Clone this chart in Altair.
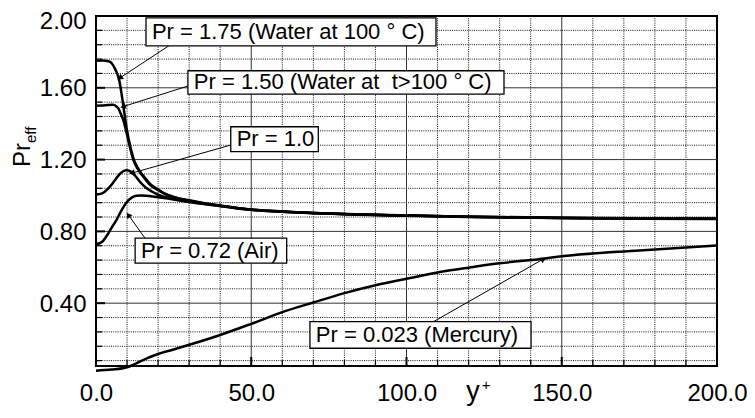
import math
import altair as alt
import pandas as pd

# ---------------- data ----------------
pr175_x = [0, 2, 4, 5, 6, 7, 7.5, 8.2, 8.8, 9.9, 11, 12, 13.5, 15.3, 17.5, 20, 22, 25, 30, 35, 40, 50, 60, 70, 85, 100, 120, 150, 175, 200]
pr175_y = [1.75, 1.752, 1.748, 1.738, 1.71, 1.67, 1.64, 1.57, 1.50, 1.37, 1.275, 1.21, 1.152, 1.108, 1.063, 1.033, 1.012, 0.992, 0.973, 0.957, 0.944, 0.922, 0.911, 0.903, 0.895, 0.889, 0.882, 0.876, 0.873, 0.871]

pr150_x = [0, 2, 4, 5.5, 6.5, 7.2, 8.0, 8.8, 9.9, 11, 12, 13.5, 15.3, 17.5, 20, 22, 25, 30, 35, 40, 50, 60, 70, 85, 100, 120, 150, 175, 200]
pr150_y = [1.50, 1.501, 1.504, 1.505, 1.497, 1.485, 1.455, 1.42, 1.345, 1.265, 1.20, 1.147, 1.103, 1.058, 1.03, 1.01, 0.99, 0.971, 0.956, 0.943, 0.921, 0.91, 0.902, 0.894, 0.888, 0.881, 0.875, 0.872, 0.870]

pr100_x = [0, 2, 3.4, 5, 6.5, 8, 9.7, 11, 12.5, 14.2, 16, 18, 20, 22, 25, 30, 35, 40, 50, 60, 70, 85, 100, 120, 150, 175, 200]
pr100_y = [1.005, 1.012, 1.03, 1.06, 1.095, 1.125, 1.14, 1.135, 1.112, 1.075, 1.045, 1.022, 1.004, 0.993, 0.98, 0.966, 0.953, 0.942, 0.921, 0.91, 0.902, 0.894, 0.888, 0.881, 0.875, 0.872, 0.870]

pr072_x = [0, 2, 3.4, 5, 6.7, 8.3, 9.9, 11.5, 13, 14.5, 16, 20, 25, 30, 35, 40, 50, 60, 70, 85, 100, 120, 150, 175, 200]
pr072_y = [0.728, 0.742, 0.774, 0.82, 0.867, 0.92, 0.962, 0.988, 0.998, 1.0, 0.999, 0.99, 0.978, 0.964, 0.952, 0.941, 0.92, 0.909, 0.901, 0.893, 0.887, 0.880, 0.874, 0.871, 0.869]

pr0023_x = [0, 5, 10, 13, 16, 20, 25, 30, 40, 50, 60, 70, 80, 90, 100, 110, 120, 130, 144, 150, 175, 200]
pr0023_y = [0.024, 0.03, 0.043, 0.065, 0.09, 0.117, 0.142, 0.168, 0.223, 0.285, 0.35, 0.404, 0.456, 0.50, 0.536, 0.571, 0.598, 0.622, 0.648, 0.661, 0.694, 0.722]

series_names = ["Pr=1.75", "Pr=1.50", "Pr=1.0", "Pr=0.72", "Pr=0.023"]

# annotation labels (data units)
label_text = ["Pr = 1.75 (Water at 100 \u00b0 C)", "Pr = 1.50 (Water at \u00a0t>100 \u00b0 C)",
              "Pr = 1.0", "Pr = 0.72 (Air)", "Pr = 0.023 (Mercury)"]
box_x1 = [16.1, 29.6, 43.4, 12.6, 68.9]
box_x2 = [109.5, 131.4, 71.6, 61.4, 140.1]
box_y1 = [1.989, 1.695, 1.383, 0.762, 0.297]
box_y2 = [1.833, 1.565, 1.244, 0.623, 0.149]
text_x = [18.0, 31.5, 45.3, 14.5, 70.8]
text_y = [1.911, 1.630, 1.313, 0.692, 0.223]
arrow_x1 = [23.8, 29.6, 43.4, 15.8, 108.1]
arrow_y1 = [1.838, 1.610, 1.281, 0.762, 0.291]
arrow_x2 = [7.7, 8.7, 11.6, 10.4, 144.1]
arrow_y2 = [1.655, 1.495, 1.125, 0.892, 0.646]

x_major = [0, 50, 100, 150, 200]
y_major = [0.4, 0.8, 1.2, 1.6, 2.0]
x_minor = [v for v in range(10, 200, 10) if v % 50 != 0]
y_minor = [round(0.08 * k, 2) for k in range(1, 25) if k % 5 != 0]

# ---------------- layout ----------------
W, H = 621, 350
X0, X1 = 0, 200
Y0, Y1 = 0.05, 2.0
FONT = "Liberation Sans"

xs = alt.Scale(domain=[X0, X1], nice=False, zero=False)
ys = alt.Scale(domain=[Y0, Y1], nice=False, zero=False)
x_axis = alt.Axis(values=x_major, format=".1f", title=None, labelPadding=15, labelFlush=False,
                  labelFontSize=24)
y_axis = alt.Axis(values=y_major, format=".2f", title=None, labelPadding=10, labelFlush=False,
                  labelFontSize=24,
                  labelOffset={"condition": {"test": "datum.value >= 1.99", "value": 5}, "value": 1})


def X(field="x"):
    return alt.X(f"{field}:Q", scale=xs, axis=x_axis)


def Y(field="y"):
    return alt.Y(f"{field}:Q", scale=ys, axis=y_axis)


# ---------------- tables ----------------
curves = pd.concat([
    pd.DataFrame({"x": xx, "y": yy, "s": name, "o": range(len(xx))})
    for name, xx, yy in zip(series_names,
                            [pr175_x, pr150_x, pr100_x, pr072_x, pr0023_x],
                            [pr175_y, pr150_y, pr100_y, pr072_y, pr0023_y])
])

labels = pd.DataFrame({"t": label_text, "x1": box_x1, "x2": box_x2, "y1": box_y1, "y2": box_y2,
                       "x": text_x, "y": text_y})

sx = W / (X1 - X0)
sy = H / (Y1 - Y0)
angles = []
for a, b, c, d in zip(arrow_x1, arrow_y1, arrow_x2, arrow_y2):
    dx = (c - a) * sx
    dy = -(d - b) * sy
    angles.append(math.degrees(math.atan2(dx, -dy)) % 360)
arrows = pd.DataFrame({"x": arrow_x1, "y": arrow_y1, "x2": arrow_x2, "y2": arrow_y2, "ang": angles})

# ---------------- layers ----------------
minor_v = alt.Chart(pd.DataFrame({"x": x_minor})).mark_rule(
    color="#111", strokeWidth=1, strokeDash=[1, 1.2]).encode(x=X())
minor_h = alt.Chart(pd.DataFrame({"y": y_minor})).mark_rule(
    color="#111", strokeWidth=1, strokeDash=[1, 1.2]).encode(y=Y())
major_v = alt.Chart(pd.DataFrame({"x": x_major[1:-1]})).mark_rule(
    color="#333", strokeWidth=1).encode(x=X())
major_h = alt.Chart(pd.DataFrame({"y": y_major[:-1]})).mark_rule(
    color="#333", strokeWidth=1).encode(y=Y())

tick_xM = alt.Chart(pd.DataFrame({"x": x_major})).mark_rule(color="black", strokeWidth=2).encode(
    x=X(), y=alt.value(H), y2=alt.value(H - 9))
tick_xm = alt.Chart(pd.DataFrame({"x": x_minor})).mark_rule(color="black", strokeWidth=1.2).encode(
    x=X(), y=alt.value(H), y2=alt.value(H - 6))
tick_yM = alt.Chart(pd.DataFrame({"y": y_major})).mark_rule(color="black", strokeWidth=2).encode(
    y=Y(), x=alt.value(0), x2=alt.value(9))
tick_ym = alt.Chart(pd.DataFrame({"y": y_minor})).mark_rule(color="black", strokeWidth=1.2).encode(
    y=Y(), x=alt.value(0), x2=alt.value(6))

lines = alt.Chart(curves).mark_line(color="black", strokeWidth=2.5, interpolate="monotone").encode(
    x=X(), y=Y(), detail="s:N", order="o:Q")

arrow_lines = alt.Chart(arrows).mark_rule(color="black", strokeWidth=1).encode(
    x=X(), y=Y(), x2="x2:Q", y2="y2:Q")
arrow_heads = alt.Chart(arrows).mark_point(shape="triangle-up", filled=True, color="black",
                                           size=40, opacity=1).encode(
    x=X("x2"), y=Y("y2"), angle=alt.Angle("ang:Q", scale=None))

boxes = alt.Chart(labels).mark_rect(fill="white", stroke="black", strokeWidth=1.3).encode(
    x=X("x1"), x2="x2:Q", y=Y("y1"), y2="y2:Q")
texts = alt.Chart(labels).mark_text(align="left", baseline="middle", font=FONT, fontSize=22,
                                    color="black").encode(x=X(), y=Y(), text="t:N")

dummy = pd.DataFrame({"a": [0]})
t_y = alt.Chart(dummy).mark_text(text="y", font=FONT, fontSize=27, align="center",
                                 baseline="alphabetic", color="black").encode(
    x=alt.value(377), y=alt.value(384))
t_plus = alt.Chart(dummy).mark_text(text="+", font=FONT, fontSize=15, align="center",
                                    baseline="middle", color="black").encode(
    x=alt.value(390), y=alt.value(369))
t_pr = alt.Chart(dummy).mark_text(text="Pr", font=FONT, fontSize=24, align="center",
                                  baseline="alphabetic", angle=270, color="black").encode(
    x=alt.value(-66), y=alt.value(139))
t_eff = alt.Chart(dummy).mark_text(text="eff", font=FONT, fontSize=15, align="left",
                                   baseline="alphabetic", angle=270, color="black").encode(
    x=alt.value(-60), y=alt.value(127))

chart = alt.layer(
    minor_v, minor_h, major_v, major_h,
    tick_xM, tick_xm, tick_yM, tick_ym,
    lines, arrow_lines, arrow_heads, boxes, texts,
    t_y, t_plus, t_pr, t_eff,
).properties(
    width=W, height=H,
    autosize=alt.AutoSizeParams(type="none"),
    padding={"left": 88, "top": 8, "right": 30, "bottom": 42},
    background="white",
).configure_view(
    stroke="black", strokeWidth=2
).configure_axis(
    labelFont=FONT, labelColor="black",
    grid=False, ticks=False, domain=False,
)

chart.save("out.html", embed_options={"renderer": "svg", "actions": False})
